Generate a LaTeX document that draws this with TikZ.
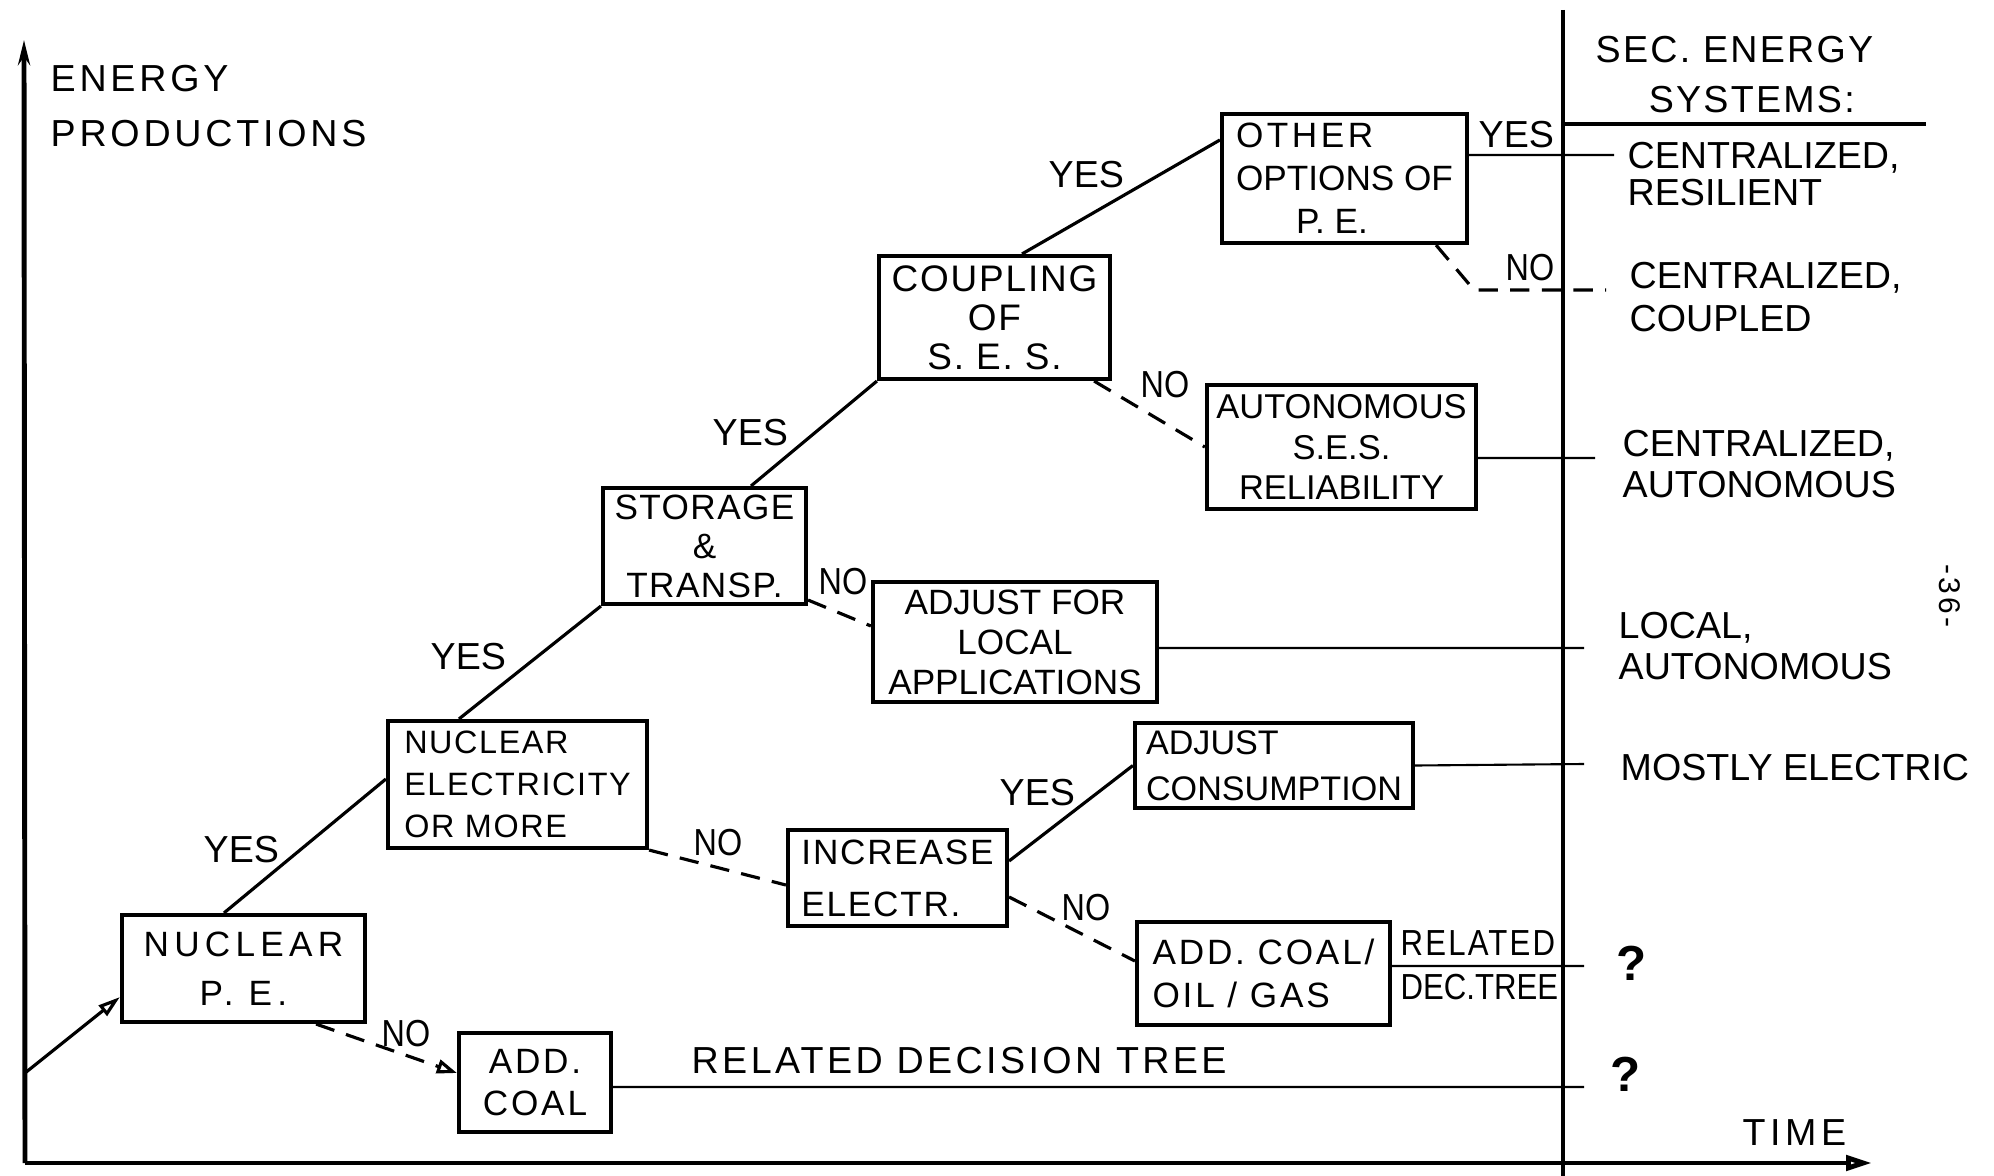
\documentclass[tikz,border=0pt]{standalone}
\usepackage{fontspec}
\usepackage{graphicx}
\setmainfont{Liberation Sans}
\newfontfamily\narrowfont[FakeStretch=0.86]{Liberation Sans}
\usetikzlibrary{arrows.meta}
\newcommand{\boxfont}[2]{\fontsize{#1}{#2}\selectfont}
\tikzset{
    decision/.style={
           rectangle,
           draw=black, line width=1.15pt,
           inner sep=0pt,
           font=\boxfont{10}{11.4},
           },
    answer/.style={font=\boxfont{10.7}{12}, inner sep=0pt, anchor=north west},
    noanswer/.style={answer, font=\narrowfont\boxfont{10.7}{12}},
    system/.style={font=\boxfont{10.7}{11.4}, inner sep=0pt, anchor=north west, align=left},
    yesline/.style={line width=0.9pt},
    noline/.style={line width=0.9pt, dash pattern=on 5.5pt off 3.5pt},
    outline/.style={line width=0.6pt},
}

\begin{document}
\begin{tikzpicture}[x=0.01cm, y=-0.01cm]
    \useasboundingbox (0,0) rectangle (1994,1176);

    % axes and the column of secondary energy systems
    \coordinate (origin) at (25,1163);
    \coordinate (ytop) at (24,40);
    \coordinate (xend) at (1872,1163);
    \coordinate (divtop) at (1563,10);
    \coordinate (divbot) at (1563,1176);
    \coordinate (headl) at (1564,124);
    \coordinate (headr) at (1926,124);
    \draw[line width=1.4pt, -{Stealth[length=0.25cm, width=0.12cm]}] (origin) -- (ytop);
    \draw[line width=1.4pt, -{Triangle[open, length=0.26cm, width=0.15cm]}] (origin) -- (xend);
    \draw[line width=0.9pt] (divtop) -- (divbot);
    \draw[line width=1.4pt] (headl) -- (headr);

    \node[system, font=\boxfont{10.7}{15.4}\addfontfeature{LetterSpace=10}] (ylabel) at (50,65)
    {ENERGY\\PRODUCTIONS};
    \node[system, font=\boxfont{10.7}{14.2}\addfontfeature{LetterSpace=6}] (seclabel) at (1595,36)
    {SEC. ENERGY\\\hspace*{0.53cm}SYSTEMS:};
    \node[system, font=\boxfont{10.7}{13}\addfontfeature{LetterSpace=12}] (xlabel) at (1742,1119) {TIME};

    % decisions (layout defined above)
    \node[decision, minimum width=2.43cm, minimum height=1.07cm, align=center,
    font=\boxfont{10}{14}\addfontfeature{LetterSpace=15}] (nucpe) at (243.5,968.5)
    {NUCLEAR\\P. E.};

    \node[decision, minimum width=2.59cm, minimum height=1.27cm, align=left,
    font=\boxfont{9.2}{12}\addfontfeature{LetterSpace=5}] (nucel) at (517.5,784.5)
    {NUCLEAR\\ELECTRICITY\\OR MORE};

    \node[decision, minimum width=2.03cm, minimum height=1.16cm, align=center,
    font=\boxfont{10}{11.1}\addfontfeature{LetterSpace=4}] (storage) at (704.5,546)
    {STORAGE\\\&\\TRANSP.};

    \node[decision, minimum width=2.31cm, minimum height=1.23cm, align=center,
    font=\boxfont{10.5}{11.1}\addfontfeature{LetterSpace=5}] (coupling) at (994.5,317.5)
    {COUPLING\\OF\\S. E. S.};

    \node[decision, minimum width=2.45cm, minimum height=1.29cm, align=left,
    font=\boxfont{10}{12.2}] (other) at (1344.5,178.5)
    {{\addfontfeature{LetterSpace=10}OTHER}\\OPTIONS OF\\\hspace*{0.6cm}P. E.};

    \node[decision, minimum width=2.69cm, minimum height=1.24cm, align=center,
    font=\boxfont{9.8}{11.4}] (autonom) at (1341.5,447)
    {AUTONOMOUS\\S.E.S.\\RELIABILITY};

    \node[decision, minimum width=2.84cm, minimum height=1.20cm, align=center,
    font=\boxfont{10}{11.4}] (adjloc) at (1015,642)
    {ADJUST FOR\\LOCAL\\APPLICATIONS};

    \node[decision, minimum width=2.19cm, minimum height=0.96cm, align=left,
    font=\boxfont{10}{14.8}\addfontfeature{LetterSpace=5}] (increase) at (897.5,878)
    {INCREASE\\ELECTR.};

    \node[decision, minimum width=2.78cm, minimum height=0.85cm, align=left,
    font=\boxfont{9.7}{13}] (adjcons) at (1274,765.5)
    {ADJUST\\CONSUMPTION};

    \node[decision, minimum width=1.52cm, minimum height=0.99cm, align=center,
    font=\boxfont{10}{12}\addfontfeature{LetterSpace=8}] (addcoal) at (535,1082.5)
    {ADD.\\COAL};

    \node[decision, minimum width=2.53cm, minimum height=1.03cm, align=left,
    font=\boxfont{10}{12}\addfontfeature{LetterSpace=8}] (addfoss) at (1263.5,973.5)
    {ADD. COAL/\\OIL / GAS};

    % entry into the tree
    \coordinate (start) at (25,1073);
    \draw[yesline, -{Triangle[open, length=0.22cm, width=0.13cm]}]
        (start) -- ([yshift=0.27cm]nucpe.south west);

    % YES branches
    \draw[yesline] ([xshift=-0.195cm]nucpe.north) -- ([yshift=0.055cm]nucel.west);
    \draw[yesline] ([xshift=-0.585cm]nucel.north) -- (storage.south west);
    \draw[yesline] ([xshift=0.465cm]storage.north) -- (coupling.south west);
    \draw[yesline] ([xshift=0.275cm]coupling.north) -- ([yshift=0.385cm]other.west);
    \draw[yesline] ([yshift=0.17cm]increase.east) -- (adjcons.west);

    \node[answer] (yes1) at (203,836) {YES};
    \node[answer] (yes2) at (430,643) {YES};
    \node[answer] (yes3) at (712,419) {YES};
    \node[answer] (yes4) at (1048,161) {YES};
    \node[answer] (yes5) at (1478,121) {YES};
    \node[answer] (yes6) at (999,779) {YES};

    % NO branches
    \coordinate (coupledbend) at (1474,290);
    \coordinate (coupled) at (1606,290);
    \draw[noline, -{Triangle[open, length=0.2cm, width=0.14cm]}]
        ([xshift=0.725cm]nucpe.south) -- ([yshift=0.095cm]addcoal.west);
    \draw[noline] (nucel.south east) -- ([yshift=-0.07cm]increase.west);
    \draw[noline] ([yshift=0.06cm]storage.south east) -- ([yshift=0.16cm]adjloc.west);
    \draw[noline] ([xshift=-0.18cm]coupling.south east) -- (autonom.west);
    \draw[noline] ([yshift=-0.19cm]increase.east) -- ([yshift=0.125cm]addfoss.west);
    \draw[noline] ([xshift=0.915cm]other.south) -- (coupledbend) -- (coupled);

    \node[noanswer] (no1) at (381,1020) {NO};
    \node[noanswer] (no2) at (693,829) {NO};
    \node[noanswer] (no3) at (818,568) {NO};
    \node[noanswer] (no4) at (1140,371) {NO};
    \node[noanswer] (no5) at (1505,254) {NO};
    \node[noanswer] (no6) at (1061,894) {NO};

    % lines out to the resulting systems
    \coordinate (resil) at (1614,155);
    \coordinate (centaut) at (1595,458);
    \coordinate (locaut) at (1584,648);
    \coordinate (mostel) at (1584,764);
    \coordinate (relq) at (1584,966);
    \coordinate (treeq) at (1584,1087);
    \draw[outline] ([yshift=0.235cm]other.east) -- (resil);
    \draw[outline] ([yshift=-0.11cm]autonom.east) -- (centaut);
    \draw[outline] ([yshift=-0.06cm]adjloc.east) -- (locaut);
    \draw[outline] (adjcons.east) -- (mostel);
    \draw[outline] ([yshift=0.075cm]addfoss.east) -- (relq);
    \draw[outline] ([yshift=-0.045cm]addcoal.east) -- (treeq);

    \node[system, font=\boxfont{10.7}{12}\addfontfeature{LetterSpace=9}] (treelabel) at (691,1047)
    {RELATED DECISION TREE};
    \node[system, font=\narrowfont\boxfont{10.3}{12.5}] (reltree) at (1400,930)
    {{\addfontfeature{LetterSpace=6}RELATED}\\DEC.TREE};

    % secondary energy systems
    \node[system, font=\boxfont{10.7}{10.5}] (sys1) at (1627,142) {CENTRALIZED,\\RESILIENT};
    \node[system, font=\boxfont{10.7}{12}] (sys2) at (1629,262) {CENTRALIZED,\\COUPLED};
    \node[system, font=\boxfont{10.7}{11.4}] (sys3) at (1622,430) {CENTRALIZED,\\AUTONOMOUS};
    \node[system, font=\boxfont{10.7}{11.4}] (sys4) at (1618,612) {LOCAL,\\AUTONOMOUS};
    \node[system] (sys5) at (1620,754) {MOSTLY ELECTRIC};
    \node[system, font=\bfseries\boxfont{14}{14}] (sys6) at (1616,945) {?};
    \node[system, font=\bfseries\boxfont{14}{14}] (sys7) at (1610,1056) {?};

    % page number
    \node[rotate=-90, inner sep=0pt, font=\boxfont{8.5}{10}\addfontfeature{LetterSpace=10}] (page) at (1950,596) {-36-};
\end{tikzpicture}
\end{document}
